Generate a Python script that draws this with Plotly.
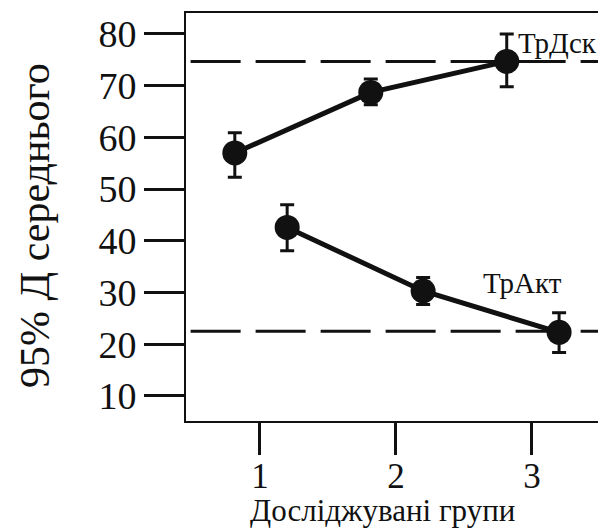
import plotly.graph_objects as go

groups = [1, 2, 3]
group_labels = ["1", "2", "3"]

# ТрДск series
dsk_mean = [57.0, 68.7, 74.7]
dsk_err_plus = [3.9, 2.6, 5.3]
dsk_err_minus = [4.7, 2.4, 4.9]

# ТрАкт series
akt_mean = [42.6, 30.3, 22.3]
akt_err_plus = [4.4, 2.6, 3.8]
akt_err_minus = [4.5, 2.6, 3.9]

ref_dsk = 74.7
ref_akt = 22.5

y_ticks = [10, 20, 30, 40, 50, 60, 70, 80]

SERIF = "Liberation Serif"
INK = "#111111"

dsk_dodge = -0.185
akt_dodge = 0.2

fig = go.Figure()

x_lo, x_hi = 0.456, 3.545

# dashed reference lines
for ref in (ref_dsk, ref_akt):
    fig.add_trace(go.Scatter(
        x=[0.49, x_hi], y=[ref, ref], mode="lines",
        line=dict(color=INK, width=3, dash="50px,15px"),
        showlegend=False, hoverinfo="skip"))

for means, ep, em, dodge in ((dsk_mean, dsk_err_plus, dsk_err_minus, dsk_dodge),
                             (akt_mean, akt_err_plus, akt_err_minus, akt_dodge)):
    fig.add_trace(go.Scatter(
        x=[g + dodge for g in groups], y=means, mode="lines+markers",
        line=dict(color=INK, width=5),
        marker=dict(color=INK, size=25, symbol="circle"),
        error_y=dict(type="data", array=ep, arrayminus=em, symmetric=False,
                     color=INK, thickness=3, width=7),
        showlegend=False))

fig.add_annotation(x=2.88, y=78.3, text="ТрДск", showarrow=False,
                   xanchor="left", yanchor="middle",
                   font=dict(family=SERIF, size=29, color=INK))
fig.add_annotation(x=2.625, y=31.8, text="ТрАкт", showarrow=False,
                   xanchor="left", yanchor="middle",
                   font=dict(family=SERIF, size=29, color=INK))

# axis titles as annotations (positions in paper coords)
fig.add_annotation(xref="paper", yref="paper", x=0.469, y=-0.267,
                   text="Досліджувані групи", showarrow=False,
                   xanchor="center", yanchor="bottom",
                   font=dict(family=SERIF, size=31, color=INK))
fig.add_annotation(xref="paper", yref="paper", x=-0.36, y=0.48,
                   text="95% Д середнього", showarrow=False, textangle=-90,
                   xanchor="center", yanchor="middle",
                   font=dict(family=SERIF, size=42, color=INK))

# the page body has an 8px default margin; size the figure to fit the window
fig.update_layout(
    width=598, height=522,
    margin=dict(l=178, r=0, t=5, b=109),
    paper_bgcolor="white", plot_bgcolor="white",
    font=dict(family=SERIF, color=INK),
    xaxis=dict(
        range=[x_lo, x_hi], tickvals=groups, ticktext=group_labels,
        ticks="outside", ticklen=32, tickwidth=3, tickcolor=INK,
        showline=True, linecolor=INK, linewidth=2, mirror=True,
        showgrid=False, zeroline=False, automargin=False,
        ticklabelstandoff=-9,
        tickfont=dict(family=SERIF, size=35, color=INK),
    ),
    yaxis=dict(
        range=[5.16, 84.06], tickvals=y_ticks,
        ticks="outside", ticklen=40, tickwidth=3, tickcolor=INK,
        showline=True, linecolor=INK, linewidth=2,
        showgrid=False, zeroline=False, automargin=False,
        tickfont=dict(family=SERIF, size=38, color=INK),
    ),
)

fig.write_html("out.html")
